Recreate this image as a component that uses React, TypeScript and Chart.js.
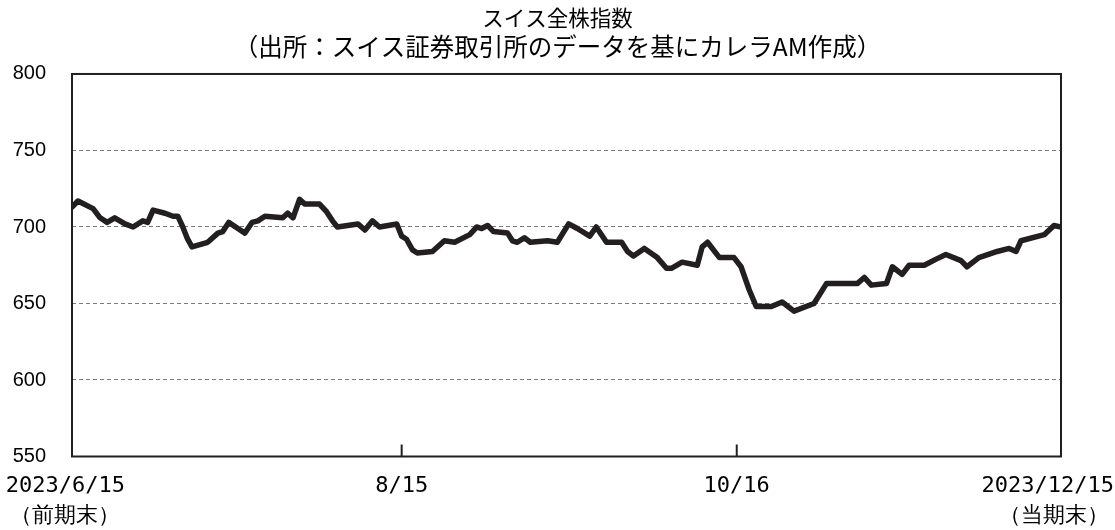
import React, { useEffect, useRef } from 'react';
import { Chart, registerables } from 'chart.js';

Chart.register(...registerables);

// Day offsets from 2023/6/15 (calendar days) and index values
const days = [
  0, 1.1, 3.9, 5.2, 6.5, 7.9, 9.8, 11.3, 13.1, 14.0, 15.0, 17.2, 18.7, 19.6, 20.5, 21.4, 22.2,
  25.1, 27.0, 27.9, 29.0, 30.7, 32.0, 33.3, 34.4, 35.7, 39.0, 39.9, 40.9, 42.1, 43.1, 45.8,
  47.1, 48.2, 49.1, 52.9, 54.2, 55.6, 56.9, 60.1, 61.0, 61.9, 63.0, 63.9, 66.7, 68.9, 70.8,
  73.6, 74.9, 75.8, 76.9, 78.0, 80.6, 81.5, 82.4, 83.7, 84.8, 88.0, 89.8, 91.9, 93.5, 95.8,
  97.0, 98.9, 101.7, 102.8, 103.9, 105.9, 108.3, 110.0, 110.9, 112.9, 115.7, 116.6, 117.6,
  119.8, 122.5, 123.8, 125.3, 126.6, 129.4, 131.4, 133.6, 137.3, 139.6, 145.3, 146.6, 147.9,
  150.7, 151.8, 153.6, 154.9, 157.7, 159.9, 161.7, 164.5, 165.6, 167.8, 171.2, 173.4, 174.7,
  175.6, 179.9, 181.7, 183,
];
const values = [
  713, 717, 712, 706, 703, 706, 702, 700, 704, 703, 711, 709, 707, 707, 700, 692, 687,
  690, 696, 697, 703, 699, 696, 703, 704, 707, 706, 709, 706, 718, 715, 715,
  710, 704, 700, 702, 698, 704, 700, 702, 694, 692, 685, 683, 684, 691, 690,
  695, 700, 699, 701, 697, 696, 691, 690, 693, 690, 691, 690, 702, 699, 694,
  700, 690, 690, 684, 681, 686, 680, 673, 673, 677, 675, 687, 690,
  680, 680, 674, 659, 648, 648, 651, 645, 650, 663, 663, 667, 662,
  663, 674, 669, 675, 675, 679, 682, 678, 674, 680, 684, 686, 684,
  691, 695, 701, 700,
];

const xTickDays = [0, 61, 123, 183];
const xTickLabels: (string | string[])[] = [
  ['2023/6/15 ', '（前期末） '],
  '8/15',
  '10/16',
  ['2023/12/15  ', '（当期末） '],
];
const innerTickDays = [61, 123];
const yMin = 550;
const yMax = 800;
const yStep = 50;
const titleText = 'スイス全株指数';
const subtitleText = '（出所：スイス証券取引所のデータを基にカレラAM作成）';

const frame = {
  id: 'frame',
  afterDatasetsDraw(chart: any) {
    const { ctx, chartArea, scales } = chart;
    const { left, top, right, bottom } = chartArea;
    ctx.save();
    ctx.strokeStyle = '#231f20';
    ctx.lineWidth = 2;
    ctx.strokeRect(left, top, right - left, bottom - top);
    innerTickDays.forEach((d) => {
      const px = scales.x.getPixelForValue(d);
      ctx.beginPath();
      ctx.moveTo(px, bottom);
      ctx.lineTo(px, bottom - 12);
      ctx.stroke();
    });
    ctx.restore();
  },
};

export default function App() {
  const ref = useRef<HTMLCanvasElement | null>(null);
  useEffect(() => {
    if (!ref.current) return;
    const chart = new Chart(ref.current, {
      type: 'line',
      data: {
        datasets: [
          {
            data: days.map((d, i) => ({ x: d, y: values[i] })),
            borderColor: '#231f20',
            borderWidth: 5.5,
            pointRadius: 0,
            tension: 0,
            borderJoinStyle: 'round',
            borderCapStyle: 'round',
          },
        ],
      },
      options: {
        animation: false,
        responsive: true,
        maintainAspectRatio: false,
        layout: { padding: 0 },
        plugins: {
          legend: { display: false },
          tooltip: { enabled: false },
          title: {
            display: true,
            text: titleText,
            color: '#000',
            font: { family: 'Noto Sans CJK JP', size: 21.5, weight: 'normal', lineHeight: 1.2 },
            padding: { top: 5, bottom: 0 },
          },
          subtitle: {
            display: true,
            text: subtitleText,
            color: '#000',
            font: { family: 'Noto Sans CJK JP', size: 24.5, weight: 'normal', lineHeight: 1.15 },
            padding: { top: 2, bottom: 13 },
          },
        },
        scales: {
          x: {
            type: 'linear',
            min: xTickDays[0],
            max: xTickDays[xTickDays.length - 1],
            afterBuildTicks: (scale: any) => {
              scale.ticks = xTickDays.map((v) => ({ value: v }));
            },
            afterFit: (scale: any) => {
              scale.height = 73.5;
              scale.paddingLeft = 0;
              scale.paddingRight = 54;
            },
            grid: { display: false, drawTicks: false },
            border: { display: false },
            ticks: {
              autoSkip: false,
              maxRotation: 0,
              minRotation: 0,
              padding: 15,
              color: '#000',
              font: { family: 'DejaVu Sans Mono', size: 22, lineHeight: 1.36 },
              callback: (value: any) => {
                const i = xTickDays.indexOf(Number(value));
                return i >= 0 ? xTickLabels[i] : '';
              },
            },
          },
          y: {
            min: yMin,
            max: yMax,
            afterFit: (scale: any) => {
              scale.width = 72;
            },
            grid: {
              drawTicks: false,
              color: (ctx: any) =>
                ctx.tick && (ctx.tick.value === yMin || ctx.tick.value === yMax)
                  ? 'rgba(0,0,0,0)'
                  : '#7a7a7a',
              lineWidth: 1,
            },
            border: { display: false, dash: [4, 3] },
            ticks: {
              stepSize: yStep,
              padding: 26,
              color: '#000',
              font: { family: 'Liberation Sans', size: 20 },
            },
          },
        },
      },
      plugins: [frame],
    } as any);
    return () => chart.destroy();
  }, []);
  return (
    <div style={{ position: 'absolute', left: 0, top: 0, width: 1115, height: 530 }}>
      <canvas ref={ref} />
    </div>
  );
}
